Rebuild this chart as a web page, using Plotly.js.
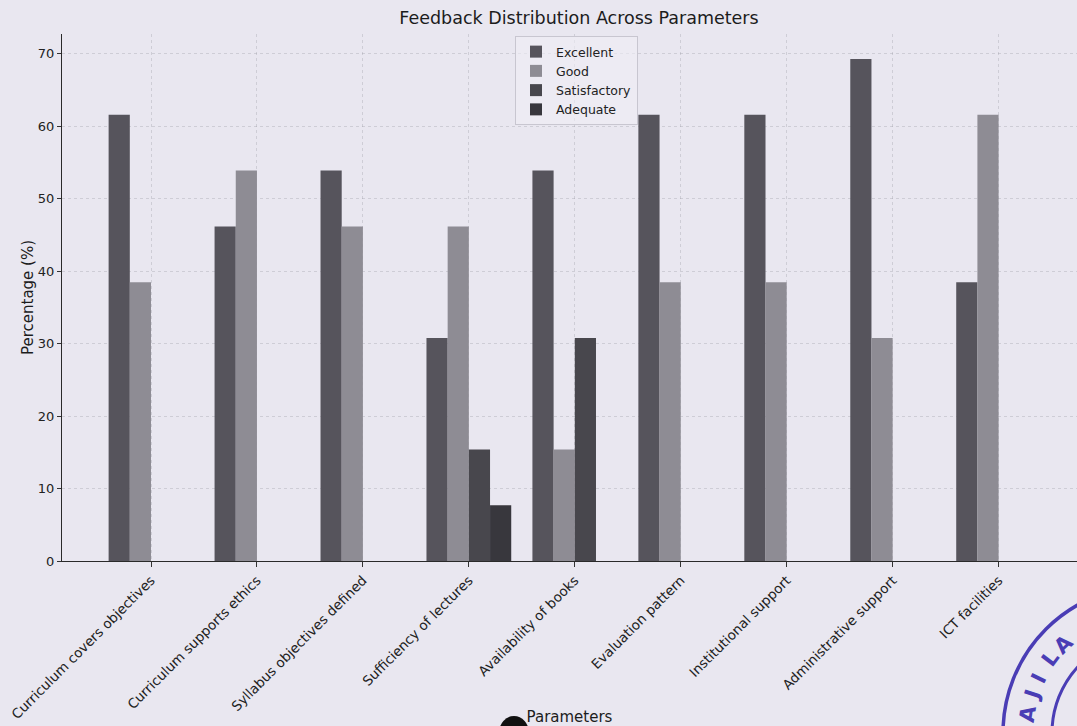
<!DOCTYPE html>
<html>
<head>
<meta charset="utf-8">
<script src="https://cdn.plot.ly/plotly-3.0.1.min.js"></script>
<style>
  html, body { margin: 0; padding: 0; background: #e9e7f0; }
  #chart { width: 1077px; height: 726px; }
</style>
</head>
<body>
<div id="chart"></div>
<script>
// ---- data ----
const categories = [
  "Curriculum covers objectives",
  "Curriculum supports ethics",
  "Syllabus objectives defined",
  "Sufficiency of lectures",
  "Availability of books",
  "Evaluation pattern",
  "Institutional support",
  "Administrative support",
  "ICT facilities"
];
const seriesNames = ["Excellent", "Good", "Satisfactory", "Adequate"];
const excellent    = [61.54, 46.15, 53.85, 30.77, 53.85, 61.54, 61.54, 69.23, 38.46];
const good         = [38.46, 53.85, 46.15, 46.15, 15.38, 38.46, 38.46, 30.77, 61.54];
const satisfactory = [0, 0, 0, 15.38, 30.77, 0, 0, 0, 0];
const adequate     = [0, 0, 0, 7.69, 0, 0, 0, 0, 0];
const yTicks = [0, 10, 20, 30, 40, 50, 60, 70];

const seriesValues = [excellent, good, satisfactory, adequate];
const colors = ["#56545c", "#8e8c94", "#48474d", "#38373d"];

const traces = seriesNames.map((name, i) => ({
  type: "bar",
  name: name,
  x: categories,
  y: seriesValues[i],
  marker: { color: colors[i], line: { width: 0 } },
  hoverinfo: "x+y+name"
}));

// ---- layout helpers (pixel -> paper) ----
const L = 62, R = 1077, T = 34, B = 561;
const W = R - L, H = B - T;
const px = v => (v - L) / W;
const py = v => (B - v) / H;

const stampColor = "#4a3db5";
const cx = 1150, cy = 733;
function circle(r, w) {
  return { type: "circle", xref: "paper", yref: "paper",
    x0: px(cx - r), x1: px(cx + r), y0: py(cy + r), y1: py(cy - r),
    line: { color: stampColor, width: w }, fillcolor: "rgba(0,0,0,0)", layer: "above" };
}
const shapes = [
  circle(147, 3.5),
  circle(98, 3),
  { type: "circle", xref: "paper", yref: "paper",
    x0: px(499), x1: px(529), y0: py(750), y1: py(716),
    fillcolor: "#111111", line: { width: 0 }, layer: "above" }
];

const stampLetters = [["A", 171], ["J", 162], ["I", 154], ["L", 143], ["A", 134]];
const annotations = stampLetters.map(([ch, th]) => {
  const rad = th * Math.PI / 180, r = 124;
  return { text: ch, showarrow: false, xref: "paper", yref: "paper",
    x: px(cx + r * Math.cos(rad)), y: py(cy - r * Math.sin(rad)),
    xanchor: "center", yanchor: "middle", textangle: 90 - th,
    font: { family: "DejaVu Sans", size: 21, color: stampColor, weight: "bold" } };
});

const layout = {
  width: 1077, height: 726,
  paper_bgcolor: "#e9e7f0",
  plot_bgcolor: "#e9e7f0",
  margin: { l: L, r: 1077 - R, t: T, b: 726 - B, pad: 0 },
  font: { family: "DejaVu Sans, sans-serif", color: "#222" },
  title: {
    text: "Feedback Distribution Across Parameters",
    font: { size: 17.5, color: "#1c1c1c" },
    xref: "paper", x: px(579), xanchor: "center",
    yref: "container", y: 1 - 18 / 726, yanchor: "middle"
  },
  barmode: "group",
  bargap: 0.2,
  bargroupgap: 0,
  xaxis: {
    type: "category",
    categoryorder: "array", categoryarray: categories,
    range: [-0.84, 8.74],
    tickangle: -45,
    tickfont: { size: 13.5, color: "#222" },
    ticks: "outside", ticklen: 5, tickcolor: "#333",
    showline: true, linecolor: "#2a2a2a", linewidth: 1.2,
    showgrid: true, gridcolor: "rgba(150,150,160,0.32)", griddash: "3px,3px", gridwidth: 1,
    zeroline: false,
    title: { text: "Parameters", font: { size: 15, color: "#1c1c1c" }, standoff: 10 },
    automargin: false
  },
  yaxis: {
    range: [0, 72.69],
    tickvals: yTicks,
    ticktext: yTicks.map(String),
    tickfont: { size: 13, color: "#222" },
    ticks: "outside", ticklen: 4, tickcolor: "#333",
    showline: true, linecolor: "#2a2a2a", linewidth: 1.2,
    showgrid: true, gridcolor: "rgba(150,150,160,0.32)", griddash: "3px,3px", gridwidth: 1,
    zeroline: false,
    title: { text: "Percentage (%)", font: { size: 15, color: "#1c1c1c" }, standoff: 0 },
    automargin: false
  },
  legend: {
    x: px(515), y: py(36), xanchor: "left", yanchor: "top",
    bgcolor: "rgba(240,239,245,0.6)", bordercolor: "#c8c6d0", borderwidth: 1,
    font: { size: 12.5, color: "#222" },
    tracegroupgap: 0
  },
  showlegend: true,
  shapes: shapes,
  annotations: annotations
};

Plotly.newPlot("chart", traces, layout, { displayModeBar: false, staticPlot: true });
</script>
</body>
</html>
